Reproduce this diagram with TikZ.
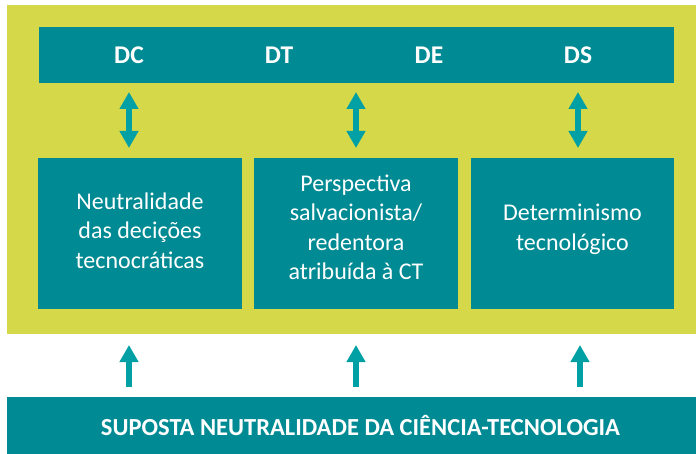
\documentclass[tikz,border=0pt]{standalone}
\usepackage{fontspec}
\setmainfont{Carlito}
\usetikzlibrary{arrows.meta, positioning}

\definecolor{boxteal}{RGB}{0,138,147}
\definecolor{arrteal}{RGB}{0,160,165}
\definecolor{panelgreen}{RGB}{213,216,72}

\begin{document}
\begin{tikzpicture}[%
        x=1pt, y=-1pt,
        every node/.style={inner sep=0pt, outer sep=0pt},
        panelbox/.style={fill=panelgreen, anchor=north west},
        bar/.style={fill=boxteal, anchor=north west},
        lbl/.style={text=white, font=\bfseries\fontsize{25.5}{30}\selectfont},
        box/.style={fill=boxteal, anchor=north west, minimum height=151pt},
        boxtext/.style={align=center, text=white, font=\fontsize{24}{29.5}\selectfont},
        dbl/.style={draw=arrteal, line width=6pt,
            {Triangle[width=18pt,length=17pt]}-{Triangle[width=18pt,length=17pt]}},
        up/.style={draw=arrteal, line width=6pt, -{Triangle[width=18pt,length=17pt]}}
    ]
    \useasboundingbox (0,0) rectangle (696,454);

    % --- Panel and top bar ---
    \node[panelbox, minimum width=689pt, minimum height=329pt] (panel) at (7,5) {};
    \node[bar, minimum width=635pt, minimum height=56pt] (bar) at (39,27) {};
    \node[lbl] (dc) at (129,55) {DC};
    \node[lbl] (dt) at (279,55) {DT};
    \node[lbl] (de) at (429,55) {DE};
    \node[lbl] (ds) at (578,55) {DS};

    % --- Boxes ---
    \node[box, minimum width=204pt] (b1) at (38,158) {};
    \node[box, minimum width=204pt] (b2) at (254,158) {};
    \node[box, minimum width=203pt] (b3) at (471,158) {};
    \node[boxtext] (t1) at ([yshift=3pt]b1.center) {Neutralidade\\das decições\\tecnocráticas};
    \node[boxtext] (t2) at ([yshift=6pt]b2.center) {Perspectiva\\salvacionista/\\redentora\\atribuída à CT};
    \node[boxtext] (t3) at ([yshift=4pt]b3.center) {Determinismo\\tecnológico};

    \draw[dbl, shorten <=9pt, shorten >=10pt] (dc |- bar.south) -- (dc |- b1.north);
    \draw[dbl, shorten <=9pt, shorten >=10pt] (b2.north |- bar.south) -- (b2.north);
    \draw[dbl, shorten <=9pt, shorten >=10pt] (ds |- bar.south) -- (ds |- b3.north);

    % --- Base ---
    \node[bar, minimum width=689pt, minimum height=57pt] (base) at (7,397) {};
    \node[text=white, font=\bfseries\fontsize{24.5}{28}\selectfont] (basetext)
        at ([xshift=9pt]base.center) {SUPOSTA NEUTRALIDADE DA CIÊNCIA-TECNOLOGIA};

    \draw[up, shorten <=10pt, shorten >=11pt] (base.north -| dc) -- (panel.south -| dc);
    \draw[up, shorten <=10pt, shorten >=11pt] (base.north -| b2.north) -- (panel.south -| b2.north);
    \draw[up, shorten <=10pt, shorten >=11pt] ([xshift=2pt]base.north -| ds) -- ([xshift=2pt]panel.south -| ds);
\end{tikzpicture}
\end{document}
